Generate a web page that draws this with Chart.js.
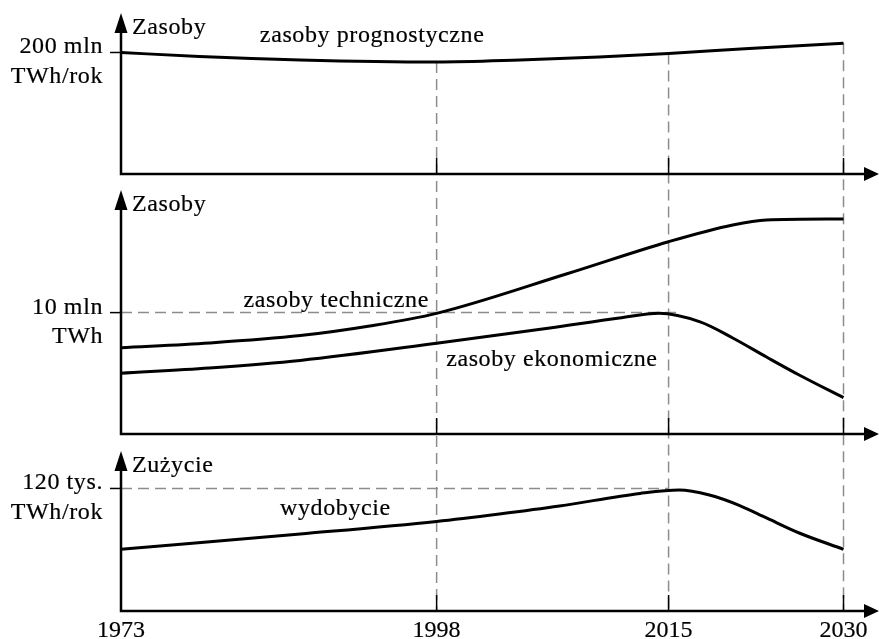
<!DOCTYPE html>
<html>
<head>
<meta charset="utf-8">
<script src="https://cdn.jsdelivr.net/npm/chart.js@4.4.1/dist/chart.umd.min.js"></script>
<style>
  html, body { margin: 0; padding: 0; background: #fff; }
  #wrap { position: relative; width: 879px; height: 639px; }
</style>
</head>
<body>
<div id="wrap"><canvas id="chart" width="879" height="639"></canvas></div>
<script>
// Time axis: labelled years and where they sit on the drawn axis (not to scale in the original)
const yearTicks = [1973, 1998, 2015, 2030];
const yearTickPlaces = [1973, 1997.9, 2016.2, 2030];
const axisEnd = 2032.8; // tip of the horizontal arrows

// Panel 1 - zasoby prognostyczne (mln TWh/rok)
const prognostyczneYears = [1973, 1979.2, 1987.2, 1998, 2004.1, 2009.9, 2015, 2021.9, 2030];
const prognostyczne = [200, 193.4, 187.7, 184.4, 187.7, 192.6, 198.4, 206.6, 215.1];

// Panel 2 - zasoby techniczne / ekonomiczne (mln TWh)
const techniczneYears = [1973, 1980.0, 1987.2, 1992.7, 1998, 2007.5, 2015, 2020.5, 2023.4, 2030];
const techniczne = [7.11, 7.50, 8.11, 8.90, 9.94, 13.18, 15.84, 17.22, 17.63, 17.71];
const ekonomiczneYears = [1973, 1980.0, 1987.2, 1998, 2006.3, 2011.4, 2014.3, 2017.7, 2020.5, 2023.4, 2026.2, 2030];
const ekonomiczne = [5.00, 5.44, 6.06, 7.47, 8.73, 9.56, 9.94, 9.23, 7.91, 6.34, 4.86, 2.99];

// Panel 3 - wydobycie (tys. TWh/rok)
const wydobycieYears = [1973, 1987.2, 1998, 2002.6, 2007.0, 2012.9, 2015.9, 2018.5, 2021.1, 2023.4, 2026.2, 2030];
const wydobycie = [60.4, 75.4, 87.7, 95.0, 102.8, 115.1, 118.5, 113.6, 103.3, 91.1, 76.4, 60.4];

// Panel axes
const panelTitles = ['Zasoby', 'Zasoby', 'Zużycie'];
const levelValues = [200, 10, 120];
const levelLabels = [['200 mln', 'TWh/rok'], ['10 mln', 'TWh'], ['120 tys.', 'TWh/rok']];
const axisTops = [265, 20.1, 156.7];      // value at each vertical arrow tip
const levelGuideEnds = [null, 2016, 2015]; // dashed level line runs to this year

// Curve captions: text, year, value, panel
const curveLabels = ['zasoby prognostyczne', 'zasoby techniczne', 'zasoby ekonomiczne', 'wydobycie'];
const curveLabelYears = [1984.0, 1982.7, 1998.7, 1985.6];
const curveLabelValues = [217, 10.5, 5.63, 94];
const curveLabelPanels = [0, 1, 1, 2];

// layout of the three stacked panels in pixels: [arrow tip, x axis]
const areaTop = 13, areaBottom = 611;
const panelBands = [[13, 174], [190, 434], [451, 611]];
const yIds = ['y1', 'y2', 'y3'];
const FONT = '24px "Liberation Serif", "Times New Roman", serif';

function placeYear(year) {
    for (let i = 1; i < yearTicks.length; i++) {
        if (year <= yearTicks[i]) {
            const t = (year - yearTicks[i - 1]) / (yearTicks[i] - yearTicks[i - 1]);
            return yearTickPlaces[i - 1] + t * (yearTickPlaces[i] - yearTickPlaces[i - 1]);
        }
    }
    return year; // past 2030 the axis just runs on to the arrow
}

// linear scale, but bent so the labelled years land where the drawing has them
const LinearScale = Chart.LinearScale || Chart.registry.getScale('linear');
class TimelineScale extends LinearScale {
    getPixelForValue(value) {
        return super.getPixelForValue(placeYear(value));
    }
}
TimelineScale.id = 'timeline';
Chart.register(TimelineScale);

// each panel gets its own y scale over the full chart height, offset so its band lines up
function panelScale(i) {
    const [tip, axis] = panelBands[i];
    const perPx = axisTops[i] / (axis - tip);
    return {
        type: 'linear',
        display: false,
        bounds: 'data',
        min: -(areaBottom - axis) * perPx,
        max: axisTops[i] + (tip - areaTop) * perPx
    };
}

function series(years, values, axis) {
    return {
        data: years.map((x, i) => ({ x, y: values[i] })),
        yAxisID: axis,
        borderColor: '#000',
        borderWidth: 3,
        pointRadius: 0,
        fill: false,
        cubicInterpolationMode: 'monotone'
    };
}

function inkText(ctx, text, x, y) {
    ctx.fillText(text, x, y);
    ctx.strokeText(text, x, y); // a touch heavier, like the original lettering
}

const diagramPlugin = {
    id: 'diagram',
    beforeDatasetsDraw(chart) {
        const { ctx } = chart;
        const x = chart.scales.x;
        const ys = yIds.map(id => chart.scales[id]);
        const bottom = ys[2].getPixelForValue(0);
        ctx.save();
        ctx.strokeStyle = '#8c8c8c';
        ctx.lineWidth = 1.5;
        ctx.setLineDash([11, 6]);
        // vertical guides from the top curve down to the lowest axis
        yearTicks.slice(1).forEach(year => {
            const i = prognostyczneYears.indexOf(year);
            const px = x.getPixelForValue(year);
            ctx.beginPath();
            ctx.moveTo(px, ys[0].getPixelForValue(prognostyczne[i]));
            ctx.lineTo(px, bottom);
            ctx.stroke();
        });
        // dashed level lines
        levelGuideEnds.forEach((end, p) => {
            if (end == null) return;
            const py = ys[p].getPixelForValue(levelValues[p]);
            ctx.beginPath();
            ctx.moveTo(x.getPixelForValue(yearTicks[0]), py);
            ctx.lineTo(x.getPixelForValue(end), py);
            ctx.stroke();
        });
        ctx.restore();
    },
    afterDatasetsDraw(chart) {
        const { ctx } = chart;
        const x = chart.scales.x;
        const ys = yIds.map(id => chart.scales[id]);
        const x0 = x.getPixelForValue(yearTicks[0]);
        const xEnd = x.getPixelForValue(axisEnd);
        ctx.save();
        ctx.fillStyle = '#000';
        ctx.strokeStyle = '#000';
        ctx.font = FONT;

        ys.forEach((y, p) => {
            const axisY = y.getPixelForValue(0);
            const tipY = y.getPixelForValue(axisTops[p]);

            // axes
            ctx.lineWidth = 2.5;
            ctx.beginPath();
            ctx.moveTo(x0, axisY);
            ctx.lineTo(x0, tipY + 10);
            ctx.moveTo(x0 - 1.25, axisY);
            ctx.lineTo(xEnd - 8, axisY);
            ctx.stroke();

            // arrow heads
            ctx.beginPath();
            ctx.moveTo(x0, tipY);
            ctx.lineTo(x0 + 6.5, tipY + 20);
            ctx.lineTo(x0 - 6.5, tipY + 20);
            ctx.closePath();
            ctx.fill();
            ctx.beginPath();
            ctx.moveTo(xEnd, axisY);
            ctx.lineTo(xEnd - 15, axisY - 7);
            ctx.lineTo(xEnd - 15, axisY + 7);
            ctx.closePath();
            ctx.fill();

            // year ticks on each axis
            ctx.lineWidth = 1.5;
            yearTicks.slice(1).forEach(year => {
                const px = x.getPixelForValue(year);
                ctx.beginPath();
                ctx.moveTo(px, axisY);
                ctx.lineTo(px, axisY - 16);
                ctx.stroke();
            });

            // level tick
            const levelY = y.getPixelForValue(levelValues[p]);
            ctx.beginPath();
            ctx.moveTo(x0 - 11, levelY);
            ctx.lineTo(x0, levelY);
            ctx.stroke();

            // texts
            ctx.lineWidth = 0.2;
            ctx.letterSpacing = '0.6px';
            ctx.textBaseline = 'alphabetic';
            ctx.textAlign = 'left';
            inkText(ctx, panelTitles[p], x0 + 11, tipY + 20.5);
            ctx.textAlign = 'right';
            inkText(ctx, levelLabels[p][0], x0 - 18, levelY + 1);
            inkText(ctx, levelLabels[p][1], x0 - 18, levelY + 30.5);
        });

        // curve captions
        ctx.textAlign = 'left';
        curveLabels.forEach((text, i) => {
            const y = ys[curveLabelPanels[i]];
            inkText(ctx, text, x.getPixelForValue(curveLabelYears[i]), y.getPixelForValue(curveLabelValues[i]));
        });

        // year labels under the lowest axis
        ctx.letterSpacing = '0px';
        ctx.textAlign = 'center';
        yearTicks.forEach(year => {
            inkText(ctx, String(year), x.getPixelForValue(year), ys[2].getPixelForValue(0) + 26);
        });
        ctx.restore();
    }
};

const scales = {
    x: {
        type: 'timeline',
        display: false,
        bounds: 'data',
        min: yearTicks[0],
        max: axisEnd
    }
};
yIds.forEach((id, i) => { scales[id] = panelScale(i); });

new Chart(document.getElementById('chart'), {
    type: 'line',
    data: {
        datasets: [
            series(prognostyczneYears, prognostyczne, 'y1'),
            series(techniczneYears, techniczne, 'y2'),
            series(ekonomiczneYears, ekonomiczne, 'y2'),
            series(wydobycieYears, wydobycie, 'y3')
        ]
    },
    options: {
        responsive: false,
        devicePixelRatio: 1,
        animation: false,
        events: [],
        layout: { padding: { left: 121, right: 0, top: areaTop, bottom: 639 - areaBottom } },
        scales: scales,
        plugins: { legend: { display: false }, tooltip: { enabled: false } }
    },
    plugins: [diagramPlugin]
});
</script>
</body>
</html>
